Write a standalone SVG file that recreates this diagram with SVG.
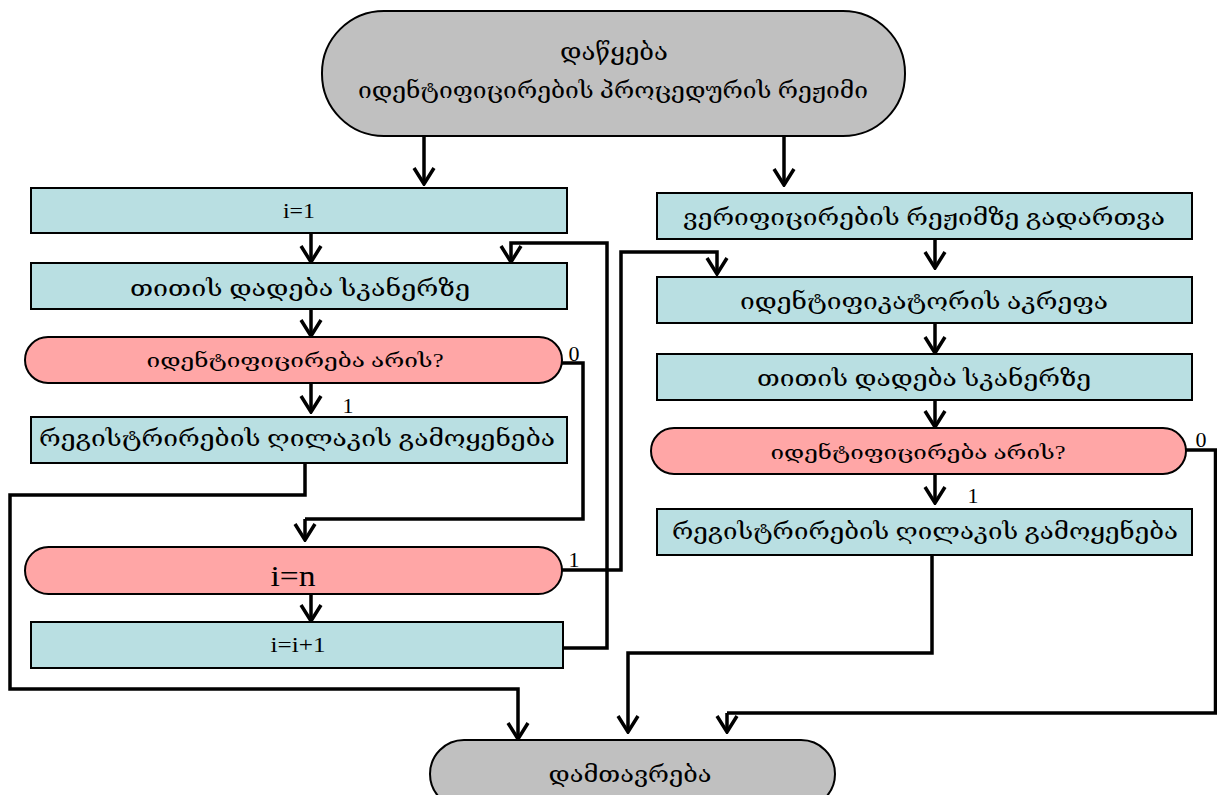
<svg xmlns="http://www.w3.org/2000/svg" width="1217" height="795" viewBox="0 0 1217 795">
<defs>
<style>
.t{font-family:"Liberation Serif","DejaVu Serif",serif;fill:#000;text-anchor:middle}
.proc{fill:#b9dfe2;stroke:#000;stroke-width:2}
.dec{fill:#ffa6a6;stroke:#000;stroke-width:2}
.term{fill:#c0c0c0;stroke:#000;stroke-width:2}
.c{fill:none;stroke:#000;stroke-width:3.5;stroke-linejoin:miter}
.a{marker-end:url(#ah)}
</style>
<marker id="ah" viewBox="-18 -12 20 24" refX="0" refY="0" markerWidth="20" markerHeight="24" markerUnits="userSpaceOnUse" orient="auto">
<path d="M-16,-10 L0,0 L-16,10" fill="none" stroke="#000" stroke-width="3.5"/>
</marker>
</defs>

<g id="start">
<rect class="term" x="322" y="11" width="583" height="125" rx="62" ry="62"/>
<text class="t" x="614" y="60" font-size="25" textLength="108" lengthAdjust="spacingAndGlyphs">დაწყება</text>
<text class="t" x="613" y="98" font-size="22" textLength="510" lengthAdjust="spacingAndGlyphs">იდენტიფიცირების პროცედურის რეჟიმი</text>
</g>

<g id="l_i1">
<rect class="proc" x="31" y="188" width="536" height="45"/>
<text class="t" x="299" y="218" font-size="22" textLength="32" lengthAdjust="spacingAndGlyphs">i=1</text>
</g>
<g id="l_finger">
<rect class="proc" x="31" y="263" width="536" height="46"/>
<text class="t" x="300" y="296" font-size="22" textLength="340" lengthAdjust="spacingAndGlyphs">თითის დადება სკანერზე</text>
</g>
<g id="l_ident">
<rect class="dec" x="25" y="337" width="537" height="46" rx="23" ry="23"/>
<text class="t" x="295" y="367" font-size="19" textLength="297" lengthAdjust="spacingAndGlyphs">იდენტიფიცირება არის?</text>
</g>
<g id="l_reg">
<rect class="proc" x="31" y="417" width="536" height="46"/>
<text class="t" x="297" y="446" font-size="22" textLength="516" lengthAdjust="spacingAndGlyphs">რეგისტრირების ღილაკის გამოყენება</text>
</g>
<g id="l_in">
<rect class="dec" x="25" y="547" width="537" height="47" rx="23.5" ry="23.5"/>
<text class="t" x="293" y="586" font-size="29" textLength="45" lengthAdjust="spacingAndGlyphs">i=n</text>
</g>
<g id="l_inc">
<rect class="proc" x="31" y="622" width="532" height="46"/>
<text class="t" x="298" y="652" font-size="22" textLength="55" lengthAdjust="spacingAndGlyphs">i=i+1</text>
</g>

<g id="r_verif">
<rect class="proc" x="657" y="193" width="535" height="46"/>
<text class="t" x="924" y="225" font-size="22" textLength="482" lengthAdjust="spacingAndGlyphs">ვერიფიცირების რეჟიმზე გადართვა</text>
</g>
<g id="r_idtype">
<rect class="proc" x="657" y="277" width="535" height="46"/>
<text class="t" x="924" y="309" font-size="22" textLength="368" lengthAdjust="spacingAndGlyphs">იდენტიფიკატორის აკრეფა</text>
</g>
<g id="r_finger">
<rect class="proc" x="657" y="354" width="535" height="46"/>
<text class="t" x="924" y="386" font-size="22" textLength="334" lengthAdjust="spacingAndGlyphs">თითის დადება სკანერზე</text>
</g>
<g id="r_ident">
<rect class="dec" x="651" y="428" width="535" height="46" rx="23" ry="23"/>
<text class="t" x="918" y="459" font-size="19" textLength="295" lengthAdjust="spacingAndGlyphs">იდენტიფიცირება არის?</text>
</g>
<g id="r_reg">
<rect class="proc" x="657" y="509" width="535" height="46"/>
<text class="t" x="925" y="539" font-size="22" textLength="506" lengthAdjust="spacingAndGlyphs">რეგისტრირების ღილაკის გამოყენება</text>
</g>

<g id="end">
<rect class="term" x="430" y="740" width="405" height="68" rx="34" ry="34"/>
<text class="t" x="630" y="782" font-size="22" textLength="163" lengthAdjust="spacingAndGlyphs">დამთავრება</text>
</g>

<g id="connectors">
<path class="c a" d="M424,136 V184"/>
<path class="c a" d="M784,136 V185"/>
<path class="c a" d="M311,233 V262"/>
<path class="c a" d="M311,309 V336"/>
<path class="c a" d="M311,383 V412"/>
<path class="c" d="M562,363 H583 V519 H305"/>
<path class="c a" d="M305,519 V540"/>
<path class="c a" d="M305,463 V495 H10 V689 H518 V739"/>
<path class="c a" d="M311,594 V621"/>
<path class="c a" d="M563,648 H607 V243 H511 V262"/>
<path class="c a" d="M562,570 H621 V252 H717 V274"/>
<path class="c a" d="M935,239 V268"/>
<path class="c a" d="M935,323 V353"/>
<path class="c a" d="M935,400 V427"/>
<path class="c a" d="M935,474 V503"/>
<path class="c a" d="M932,555 V653 H628 V732"/>
<path class="c" d="M1186,450 H1215.5 V713 H727"/>
<path class="c a" d="M727,713 V732"/>
</g>

<g id="labels">
<text class="t" x="574" y="361" font-size="22">0</text>
<text class="t" x="348" y="413" font-size="22">1</text>
<text class="t" x="574" y="567" font-size="22">1</text>
<text class="t" x="1201" y="447" font-size="22">0</text>
<text class="t" x="973" y="503" font-size="22">1</text>
</g>
</svg>
